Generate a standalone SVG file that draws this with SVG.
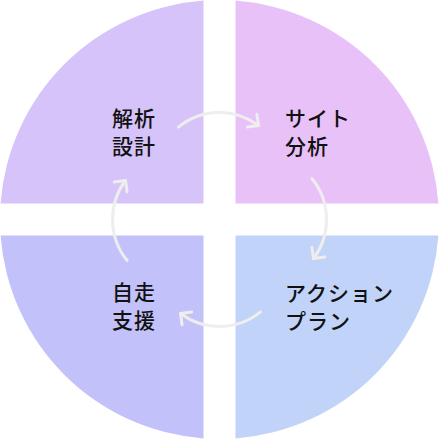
<svg xmlns="http://www.w3.org/2000/svg" width="439" height="439" viewBox="0 0 439 439">
  <style>
    .lbl { font-family: "Noto Sans CJK JP", "Noto Sans", sans-serif; font-size: 21px; font-weight: 500; letter-spacing: 1px; fill: #111111; }
    .arc { fill: none; stroke: #eeeeee; stroke-width: 3; stroke-linecap: round; }
  </style>
  <defs>
    <marker id="chev" markerUnits="userSpaceOnUse" viewBox="-12 -12 14 24" markerWidth="14" markerHeight="24" refX="0" refY="0" orient="auto" overflow="visible">
      <path d="M -8,-8 L 0,0 L -8,8" fill="none" stroke="#eeeeee" stroke-width="3" stroke-linecap="round" stroke-linejoin="round"/>
    </marker>
  </defs>
  <g id="q-tl">
    <path d="M 203.5,0.58 L 203.5,203.5 L 0.58,203.5 A 219.5 219.5 0 0 1 203.5,0.58 Z" fill="#d5c3f9"/>
    <text class="lbl" x="112" y="126">解析</text>
    <text class="lbl" x="112" y="154">設計</text>
  </g>
  <g id="q-tr">
    <path d="M 235.5,0.58 A 219.5 219.5 0 0 1 438.42,203.5 L 235.5,203.5 Z" fill="#e9c1f9"/>
    <text class="lbl" x="285" y="126">サイト</text>
    <text class="lbl" x="285" y="154">分析</text>
  </g>
  <g id="q-br">
    <path d="M 438.42,235.5 A 219.5 219.5 0 0 1 235.5,438.42 L 235.5,235.5 Z" fill="#c1d3f9"/>
    <text class="lbl" x="285" y="301">アクション</text>
    <text class="lbl" x="285" y="329">プラン</text>
  </g>
  <g id="q-bl">
    <path d="M 203.5,438.42 A 219.5 219.5 0 0 1 0.58,235.5 L 203.5,235.5 Z" fill="#c2c1f9"/>
    <text class="lbl" x="112" y="300">自走</text>
    <text class="lbl" x="112" y="328">支援</text>
  </g>
  <g id="connectors">
    <path class="arc" marker-end="url(#chev)" d="M 178.5,127.1 A 65 65 0 0 1 258.5,125.5"/>
    <path class="arc" marker-end="url(#chev)" d="M 178.5,127.1 A 65 65 0 0 1 258.5,125.5" transform="rotate(90 219.5 219.5)"/>
    <path class="arc" marker-end="url(#chev)" d="M 178.5,127.1 A 65 65 0 0 1 258.5,125.5" transform="rotate(180 219.5 219.5)"/>
    <path class="arc" marker-end="url(#chev)" d="M 178.5,127.1 A 65 65 0 0 1 258.5,125.5" transform="rotate(270 219.5 219.5)"/>
  </g>
</svg>
